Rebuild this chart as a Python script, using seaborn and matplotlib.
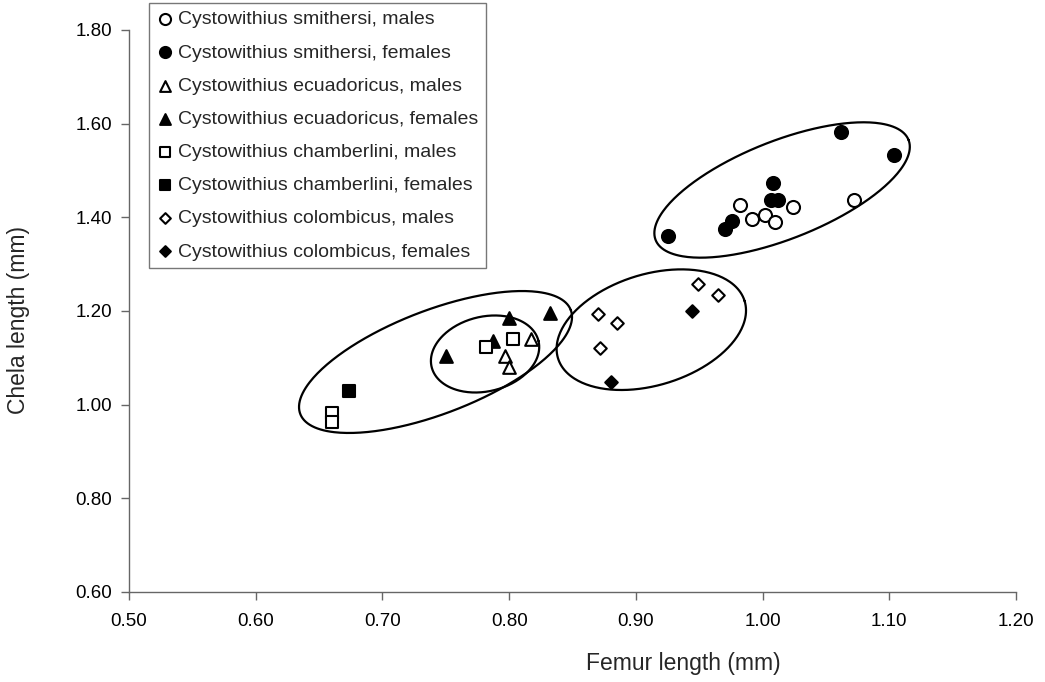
import numpy as np
import matplotlib
matplotlib.use("Agg")
import matplotlib.pyplot as plt
import seaborn as sns

# Femur / chela lengths (mm)
smi_m_x = [0.982, 0.992, 1.002, 1.010, 1.024, 1.072]
smi_m_y = [1.426, 1.397, 1.405, 1.389, 1.421, 1.437]
smi_f_x = [0.925, 0.970, 0.976, 1.008, 1.007, 1.012, 1.062, 1.104]
smi_f_y = [1.360, 1.375, 1.392, 1.474, 1.436, 1.436, 1.582, 1.534]
ecu_m_x = [0.797, 0.800, 0.817]
ecu_m_y = [1.104, 1.081, 1.140]
ecu_f_x = [0.750, 0.787, 0.800, 0.832]
ecu_f_y = [1.103, 1.135, 1.184, 1.195]
cha_m_x = [0.660, 0.660, 0.782, 0.803]
cha_m_y = [0.983, 0.962, 1.124, 1.140]
cha_f_x = [0.674]
cha_f_y = [1.030]
col_m_x = [0.870, 0.872, 0.885, 0.949, 0.965]
col_m_y = [1.194, 1.120, 1.175, 1.258, 1.235]
col_f_x = [0.880, 0.944]
col_f_y = [1.048, 1.201]

x_ticks = [0.50, 0.60, 0.70, 0.80, 0.90, 1.00, 1.10, 1.20]
y_ticks = [0.60, 0.80, 1.00, 1.20, 1.40, 1.60, 1.80]

# (label, x, y, marker, size, filled)
groups = [
    ("Cystowithius smithersi, males", smi_m_x, smi_m_y, "o", 88, False),
    ("Cystowithius smithersi, females", smi_f_x, smi_f_y, "o", 88, True),
    ("Cystowithius ecuadoricus, males", ecu_m_x, ecu_m_y, "^", 83, False),
    ("Cystowithius ecuadoricus, females", ecu_f_x, ecu_f_y, "^", 83, True),
    ("Cystowithius chamberlini, males", cha_m_x, cha_m_y, "s", 74, False),
    ("Cystowithius chamberlini, females", cha_f_x, cha_f_y, "s", 74, True),
    ("Cystowithius colombicus, males", col_m_x, col_m_y, "D", 41, False),
    ("Cystowithius colombicus, females", col_f_x, col_f_y, "D", 41, True),
]

# hand-drawn ellipses: centre (data), semi-axes (px), angle (deg)
ellipses = [
    (1.0154, 1.4584, 136, 49, 21.6),
    (0.9122, 1.1601, 97.6, 55.5, 17.1),
    (0.7810, 1.1082, 55.0, 37.3, 13.75),
    (0.7419, 1.0911, 144.9, 51.7, 21.05),
]

sns.set_style("white")
plt.rcParams['font.family'] = ['Liberation Sans', 'DejaVu Sans']

fig = plt.figure(figsize=(10.45, 6.82), dpi=100)
ax = fig.add_axes([129 / 1045, 1 - 592 / 682, 887 / 1045, 562 / 682])

for label, xs, ys, mk, sz, filled in groups:
    sns.scatterplot(x=xs, y=ys, ax=ax, marker=mk, s=sz,
                    color="black" if filled else "white",
                    edgecolor="black", linewidth=1.5, label=label, zorder=3)

ax.set_xlim(0.5, 1.2)
ax.set_ylim(0.6, 1.8)
ax.set_xticks(x_ticks)
ax.set_yticks(y_ticks)
ax.set_xticklabels([f"{v:.2f}" for v in x_ticks])
ax.set_yticklabels([f"{v:.2f}" for v in y_ticks])

# draw the ellipses in pixel space around a data centre
sx = ax.bbox.width / (1.2 - 0.5)
sy = ax.bbox.height / (1.8 - 0.6)
t = np.linspace(0, 2 * np.pi, 300)
for cx, cy, a, b, ang in ellipses:
    th = np.deg2rad(ang)
    dx = a * np.cos(t) * np.cos(th) - b * np.sin(t) * np.sin(th)
    dy = a * np.cos(t) * np.sin(th) + b * np.sin(t) * np.cos(th)
    ax.plot(cx + dx / sx, cy + dy / sy, color="black", lw=1.6, zorder=2)

for side in ["top", "right"]:
    ax.spines[side].set_visible(False)
for side in ["left", "bottom"]:
    ax.spines[side].set_color("#666666")
    ax.spines[side].set_linewidth(1.0)
ax.tick_params(axis="both", direction="out", length=6, width=1, color="#666666",
               labelsize=13.5, labelcolor="black", bottom=True, left=True)
ax.tick_params(axis="x", pad=9)
ax.tick_params(axis="y", pad=6)

ax.set_xlabel("Femur length (mm)", fontsize=16.5)
ax.set_ylabel("Chela length (mm)", fontsize=16.5)
ax.xaxis.set_label_coords((683 - 129) / 887, (592 - 652) / 562)
ax.yaxis.set_label_coords((30 - 129) / 887, (592 - 320) / 562)

leg = ax.legend(loc="upper left", bbox_to_anchor=((149 - 129) / 887, (592 - 3) / 562),
                borderaxespad=0, fontsize=14, markerscale=0.85, handlelength=0.8,
                handletextpad=0.3, labelspacing=0.8, borderpad=0.4, frameon=True,
                fancybox=False)
leg.get_frame().set_edgecolor("#555555")
leg.get_frame().set_linewidth(1.0)

fig.savefig("out.png", dpi=100)
